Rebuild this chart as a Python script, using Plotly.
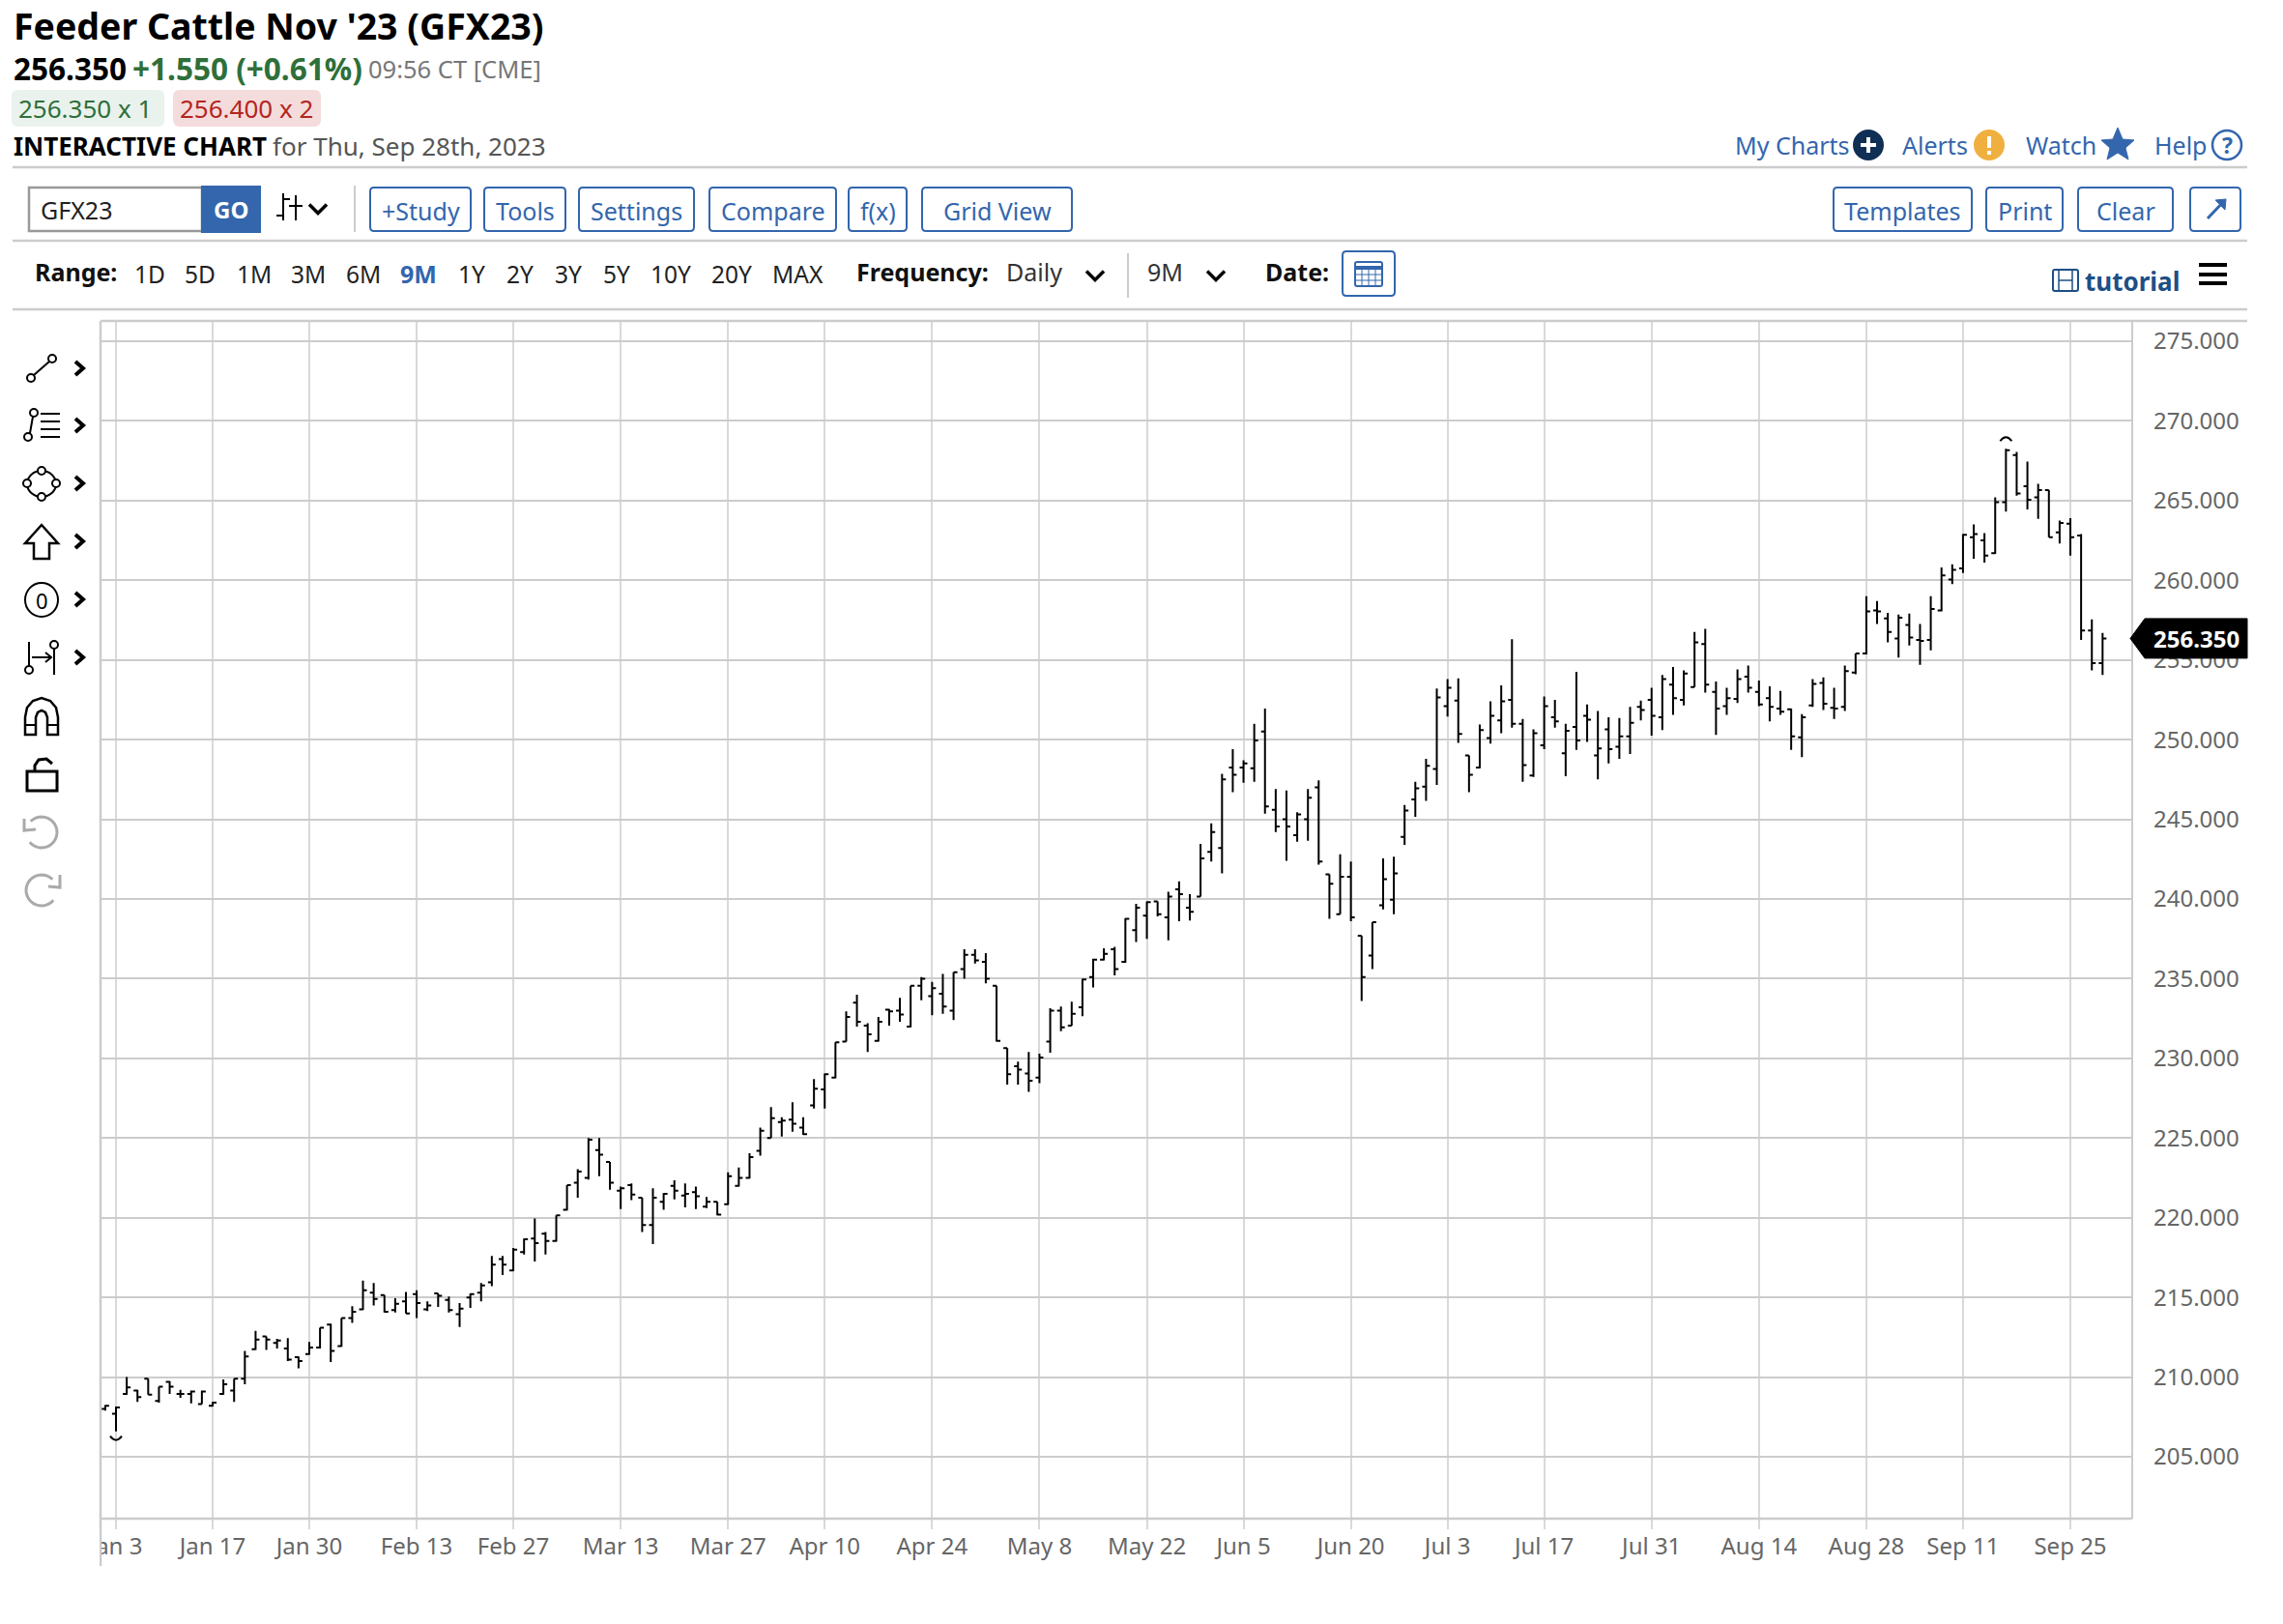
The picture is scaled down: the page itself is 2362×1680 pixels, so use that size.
import math
import pandas as pd
import plotly.graph_objects as go

# trading days shown on the chart
holidays = ["2023-01-02", "2023-01-16", "2023-02-20", "2023-04-07", "2023-05-29", "2023-06-19", "2023-07-04", "2023-09-04"]
days = [d for d in pd.bdate_range("2022-12-30", "2023-09-28").strftime("%Y-%m-%d") if d not in holidays]

opens = [208.0, 207.7, 208.95, 209.15, 209.9, 208.5, 209.7, 208.95, 208.95, 208.3,
         208.2, 208.95, 209.15, 209.9, 211.75, 212.55, 212.15, 211.8, 211.25, 211.45,
         211.85, 213.3, 211.95, 213.7, 214.25, 215.3, 215.15, 214.2, 214.75, 215.2,
         214.25, 215.25, 214.85, 213.95, 215.0, 215.3, 215.95, 217.4, 216.7, 217.85,
         218.7, 219.0, 218.55, 220.5, 222.2, 222.5, 224.25, 223.5, 221.7, 222.05,
         221.25, 219.55, 221.0, 222.0, 221.4, 221.6, 220.7, 221.0, 220.85, 222.0,
         222.5, 224.2, 225.0, 226.0, 226.15, 225.65, 227.05, 228.05, 228.8, 231.05,
         233.5, 232.05, 231.1, 233.05, 233.0, 232.0, 234.55, 233.9, 234.05, 233.0,
         235.6, 236.5, 236.05, 234.55, 230.65, 229.5, 229.05, 228.8, 231.05, 233.0,
         232.05, 233.2, 235.1, 236.2, 236.85, 236.05, 238.05, 238.95, 239.85, 238.85,
         240.6, 239.45, 240.15, 242.95, 243.2, 248.25, 248.25, 248.2, 250.5, 245.6,
         245.0, 244.0, 245.0, 247.0, 241.55, 239.05, 241.4, 237.7, 236.45, 239.6,
         239.95, 243.9, 246.25, 247.05, 248.15, 252.1, 252.45, 249.0, 248.25, 250.1,
         251.2, 252.5, 251.0, 247.75, 249.65, 251.4, 249.15, 250.8, 251.5, 249.0,
         250.65, 249.55, 250.2, 252.05, 252.5, 251.4, 253.45, 252.5, 253.3, 256.0,
         253.0, 252.1, 252.55, 253.95, 253.0, 252.6, 251.95, 251.9, 250.15, 252.15,
         253.55, 252.0, 252.05, 254.2, 255.4, 258.1, 257.6, 256.35, 257.2, 256.25,
         256.25, 258.1, 260.05, 260.75, 262.7, 262.5, 261.7, 264.9, 267.85, 265.9,
         265.2, 265.65, 263.0, 263.55, 262.8, 256.85, 254.8]
highs = [208.25, 208.15, 210.0, 209.2, 209.9, 209.4, 209.75, 209.2, 209.15, 209.15,
         208.45, 209.85, 209.9, 211.65, 212.9, 212.55, 212.4, 212.45, 211.3, 212.2,
         213.1, 213.35, 213.7, 214.45, 216.05, 215.9, 215.15, 214.95, 215.35, 215.45,
         214.75, 215.25, 215.05, 214.65, 215.25, 215.9, 217.6, 217.6, 218.1, 218.7,
         219.95, 219.1, 220.15, 222.05, 223.05, 225.0, 225.0, 223.5, 221.95, 222.15,
         221.25, 221.85, 221.55, 222.35, 222.15, 221.95, 221.3, 221.0, 222.85, 223.15,
         224.05, 225.65, 226.95, 226.3, 227.25, 226.3, 228.7, 229.05, 231.0, 232.95,
         234.0, 232.2, 232.6, 233.1, 233.8, 234.55, 235.1, 234.8, 235.3, 235.4,
         236.85, 236.85, 236.6, 234.55, 230.65, 229.8, 230.4, 230.3, 233.15, 233.25,
         233.55, 235.0, 236.25, 236.9, 237.0, 238.8, 239.7, 239.85, 239.85, 240.45,
         241.1, 240.3, 243.45, 244.75, 247.85, 249.4, 248.7, 251.0, 251.95, 246.9,
         246.8, 245.45, 246.9, 247.45, 241.55, 242.8, 242.35, 237.7, 238.55, 242.55,
         242.65, 245.9, 247.35, 248.8, 253.2, 253.8, 253.85, 249.0, 250.95, 252.4,
         253.4, 256.3, 251.3, 250.65, 252.7, 252.5, 251.0, 254.25, 252.2, 251.8,
         251.4, 251.35, 252.05, 252.45, 253.25, 254.05, 254.55, 254.35, 256.75, 256.95,
         253.65, 253.25, 254.4, 254.65, 253.7, 253.35, 253.05, 251.95, 251.6, 253.8,
         253.9, 253.25, 254.65, 255.4, 259.0, 258.7, 257.95, 257.85, 257.9, 257.25,
         259.0, 260.8, 261.0, 262.9, 263.5, 262.95, 265.2, 268.25, 268.05, 267.45,
         266.05, 265.65, 263.75, 263.9, 262.9, 257.55, 256.7]
lows = [207.9, 206.6, 208.9, 208.45, 208.9, 208.4, 208.95, 208.7, 208.35, 208.3,
        208.15, 208.9, 208.45, 209.55, 211.7, 211.7, 211.8, 211.0, 210.55, 211.4,
        211.8, 210.95, 211.9, 213.4, 214.2, 214.5, 214.05, 214.05, 214.0, 213.7,
        214.15, 214.4, 214.05, 213.15, 214.35, 214.75, 215.7, 216.4, 216.65, 217.7,
        217.25, 217.7, 218.5, 220.45, 221.25, 222.4, 222.6, 221.75, 220.55, 221.1,
        219.1, 218.35, 220.5, 221.15, 220.65, 220.55, 220.6, 220.15, 220.8, 221.95,
        222.45, 223.9, 225.0, 225.1, 225.4, 225.2, 226.85, 226.85, 228.75, 231.05,
        232.0, 230.4, 231.05, 232.05, 232.3, 231.95, 233.65, 232.7, 232.8, 232.4,
        235.0, 235.95, 234.7, 231.05, 228.35, 228.35, 227.9, 228.45, 230.35, 231.7,
        232.05, 232.65, 234.45, 236.15, 235.2, 236.0, 237.3, 237.5, 238.9, 237.4,
        238.6, 238.65, 240.15, 242.35, 241.6, 246.7, 247.3, 247.35, 245.35, 244.2,
        242.4, 243.6, 243.65, 242.15, 238.75, 239.05, 238.6, 233.6, 235.6, 239.35,
        239.05, 243.4, 245.15, 246.15, 247.15, 251.45, 249.8, 246.7, 248.2, 249.75,
        250.4, 250.75, 247.35, 247.65, 249.4, 250.75, 247.7, 249.35, 249.85, 247.5,
        248.5, 248.8, 249.1, 251.2, 250.25, 250.6, 251.55, 252.15, 253.3, 252.95,
        250.3, 251.55, 252.3, 252.95, 252.1, 251.15, 251.55, 249.35, 248.9, 252.05,
        251.85, 251.3, 251.8, 254.1, 255.35, 257.25, 256.1, 255.15, 255.9, 254.7,
        255.6, 258.05, 259.75, 260.45, 261.35, 261.1, 261.65, 264.3, 265.3, 264.45,
        263.85, 262.7, 262.3, 261.55, 256.25, 254.35, 254.05]
closes = [208.2, 208.1, 209.35, 208.75, 208.9, 209.4, 209.4, 208.95, 209.1, 209.1,
          208.4, 209.55, 209.9, 211.3, 212.35, 212.35, 212.3, 211.1, 211.0, 211.85,
          213.1, 211.65, 213.7, 214.1, 215.45, 214.9, 214.1, 214.6, 214.0, 214.65,
          214.5, 215.1, 214.2, 214.3, 215.2, 215.75, 217.05, 217.05, 218.0, 218.65,
          218.4, 218.55, 220.15, 222.05, 222.9, 224.9, 223.95, 222.2, 221.85, 221.45,
          219.55, 221.25, 221.5, 221.7, 221.5, 221.35, 221.0, 220.2, 222.6, 222.5,
          223.8, 225.45, 226.25, 226.1, 225.9, 225.25, 228.1, 229.0, 231.0, 232.6,
          232.3, 231.5, 232.3, 232.95, 232.75, 234.55, 235.0, 234.4, 233.25, 235.4,
          236.5, 236.15, 235.0, 231.1, 229.0, 229.3, 228.6, 230.05, 233.0, 231.95,
          232.8, 234.95, 236.2, 236.55, 235.6, 238.75, 239.45, 239.8, 239.05, 240.15,
          240.3, 239.2, 242.55, 244.2, 247.5, 247.8, 248.5, 249.95, 245.8, 244.55,
          244.55, 245.3, 246.35, 242.35, 240.95, 241.4, 238.85, 235.1, 238.55, 241.25,
          241.6, 245.55, 246.95, 248.35, 252.65, 253.25, 250.35, 247.8, 250.6, 251.5,
          252.4, 251.0, 248.4, 250.4, 252.1, 251.15, 250.55, 249.95, 251.25, 249.45,
          249.4, 250.2, 251.05, 251.85, 251.5, 253.8, 252.6, 254.15, 256.1, 253.45,
          251.95, 252.6, 253.8, 253.25, 252.2, 252.05, 251.75, 250.2, 251.4, 253.5,
          252.25, 251.95, 254.3, 255.4, 258.05, 258.05, 256.75, 257.65, 256.4, 256.2,
          258.2, 260.3, 260.65, 262.85, 262.9, 261.55, 264.9, 268.15, 265.45, 265.05,
          265.65, 262.7, 263.6, 262.7, 256.85, 254.8, 256.35]

tick_days = ["2023-01-03", "2023-01-17", "2023-01-30", "2023-02-13", "2023-02-27", "2023-03-13", "2023-03-27",
             "2023-04-10", "2023-04-24", "2023-05-08", "2023-05-22", "2023-06-05", "2023-06-20", "2023-07-03",
             "2023-07-17", "2023-07-31", "2023-08-14", "2023-08-28", "2023-09-11", "2023-09-25"]
tick_labels = ["Jan 3", "Jan 17", "Jan 30", "Feb 13", "Feb 27", "Mar 13", "Mar 27", "Apr 10", "Apr 24", "May 8",
               "May 22", "Jun 5", "Jun 20", "Jul 3", "Jul 17", "Jul 31", "Aug 14", "Aug 28", "Sep 11", "Sep 25"]
price_ticks = [205, 210, 215, 220, 225, 230, 235, 240, 245, 250, 255, 260, 265, 270, 275]
last_price = 256.35

# page pixels of the plot area, the page body adds 8px around the figure
W, H = 2354, 1672
left, right, top, bottom = 104, 2206, 332, 1571
BLUE = "#3366ad"
GRID = "#cccccc"
FONT = "Noto Sans"


def X(x):
    return (x - left) / (right - left)


def Y(y):
    return (bottom - y) / (bottom - top)


shapes = []
notes = []


def text(x, y, s, size=24, color="#333333", anchor="left", bold=False):
    if bold:
        s = "<b>" + s + "</b>"
    notes.append(dict(x=X(x), y=Y(y), xref="paper", yref="paper", text=s, showarrow=False, xanchor=anchor,
                      yanchor="middle", font=dict(family=FONT, size=size, color=color), borderpad=0, borderwidth=0))


def seg(x0, y0, x1, y1, color="#000000", width=2):
    shapes.append(dict(type="line", xref="paper", yref="paper", x0=X(x0), y0=Y(y0), x1=X(x1), y1=Y(y1),
                       line=dict(color=color, width=width), layer="above"))


def circ(cx, cy, r, line="#000000", fill="rgba(0,0,0,0)", width=2):
    shapes.append(dict(type="circle", xref="paper", yref="paper", x0=X(cx - r), y0=Y(cy - r), x1=X(cx + r), y1=Y(cy + r),
                       line=dict(color=line, width=width), fillcolor=fill, layer="above"))


def poly(points, line="#000000", fill="rgba(0,0,0,0)", width=2, close=True):
    p = "M " + " L ".join(str(X(a)) + " " + str(Y(b)) for a, b in points)
    if close:
        p += " Z"
    shapes.append(dict(type="path", xref="paper", yref="paper", path=p, line=dict(color=line, width=width),
                       fillcolor=fill, layer="above"))


def arc(cx, cy, r, a0, a1, line="#aaaaaa", width=3):
    pts = []
    for k in range(25):
        a = math.radians(a0 + (a1 - a0) * k / 24)
        pts.append((cx + r * math.cos(a), cy + r * math.sin(a)))
    poly(pts, line=line, width=width, close=False)


def box(x0, y0, x1, y1, line=BLUE, fill="#ffffff", width=2, r=4):
    p = ("M %f %f L %f %f Q %f %f %f %f L %f %f Q %f %f %f %f L %f %f Q %f %f %f %f L %f %f Q %f %f %f %f Z" % (
        X(x0 + r), Y(y0), X(x1 - r), Y(y0), X(x1), Y(y0), X(x1), Y(y0 + r), X(x1), Y(y1 - r), X(x1), Y(y1), X(x1 - r), Y(y1),
        X(x0 + r), Y(y1), X(x0), Y(y1), X(x0), Y(y1 - r), X(x0), Y(y0 + r), X(x0), Y(y0), X(x0 + r), Y(y0)))
    shapes.append(dict(type="path", xref="paper", yref="paper", path=p, line=dict(color=line, width=width),
                       fillcolor=fill, layer="above"))


def chevron(x, y, s=9, width=3.5, color="#000000"):
    poly([(x - s, y - s / 2), (x, y + s / 2), (x + s, y - s / 2)], line=color, width=width, close=False)


def side_chevron(x, y):
    poly([(x - 4, y - 7), (x + 4, y), (x - 4, y + 7)], width=4, close=False)


# header
text(14, 26.5, "Feeder Cattle Nov '23 (GFX23)", size=37.5, color="#000000", bold=True)
text(14, 70.5, "256.350", size=31.5, color="#000000", bold=True)
text(137, 70.5, "+1.550 (+0.61%)", size=31.5, color="#2f6f3a", bold=True)
text(381, 71, "09:56 CT [CME]", size=25.5, color="#777777")
box(13, 94, 169, 130, line="#e9f2ec", fill="#e9f2ec", r=6)
text(19, 111.5, "256.350 x 1", size=26, color="#2f6f3a")
box(180, 94, 331, 130, line="#f4dcdc", fill="#f4dcdc", r=6)
text(186, 111.5, "256.400 x 2", size=26, color="#b3261e")
text(14, 151.5, "INTERACTIVE CHART", size=26, color="#000000", bold=True)
text(282, 151.5, "for Thu, Sep 28th, 2023", size=26, color="#555555")

text(1795, 150, "My Charts", size=25, color=BLUE)
circ(1933, 150, 15, line="#102f55", fill="#102f55")
seg(1925, 150, 1941, 150, color="#ffffff", width=4)
seg(1933, 142, 1933, 158, color="#ffffff", width=4)
text(1968, 150, "Alerts", size=25, color=BLUE)
circ(2058, 150, 15, line="#f0b040", fill="#f0b040")
seg(2058, 141, 2058, 153, color="#ffffff", width=4)
seg(2058, 156, 2058, 160, color="#ffffff", width=4)
text(2096, 150, "Watch", size=25, color=BLUE)
star = [(2191, 132), (2196, 144), (2208, 145), (2199, 153), (2202, 165), (2191, 158), (2180, 165), (2183, 153), (2174, 145), (2186, 144)]
poly(star, line=BLUE, fill=BLUE, width=1)
text(2229, 150, "Help", size=25, color=BLUE)
circ(2304, 150, 15, line=BLUE, width=2.5)
text(2304, 150, "?", size=23, color=BLUE, anchor="center", bold=True)

for yy in [173, 249, 320]:
    seg(13, yy, 2325, yy, color=GRID, width=2.5)

# toolbar row
box(30, 194, 209, 239, line="#999999", r=0, width=2.5)
text(42, 216.5, "GFX23", size=25, color="#222222")
box(209, 193, 269, 240, line=BLUE, fill=BLUE, r=0)
text(239, 216.5, "GO", size=24, color="#ffffff", anchor="center", bold=True)
seg(293, 200, 293, 228, width=2)
seg(286, 223, 293, 223, width=2)
seg(293, 206, 300, 206, width=2)
seg(306, 202, 306, 228, width=2)
seg(299, 213, 306, 213, width=2)
seg(306, 213, 313, 213, width=2)
chevron(329, 216)
seg(367, 192, 367, 240, color=GRID, width=2)

buttons_left = [(383, 487, "+Study"), (501, 585, "Tools"), (599, 718, "Settings"), (734, 865, "Compare"),
                (878, 938, "f(x)"), (954, 1109, "Grid View")]
buttons_right = [(1897, 2040, "Templates"), (2055, 2134, "Print"), (2150, 2248, "Clear")]
for x0, x1, label in buttons_left + buttons_right:
    box(x0, 194, x1, 239)
    text((x0 + x1) / 2, 217.5, label, size=25, color=BLUE, anchor="center")
box(2266, 194, 2318, 239)
seg(2284, 226, 2301, 208, color=BLUE, width=3)
poly([(2292, 207), (2303, 206), (2302, 217)], line=BLUE, fill=BLUE, width=1)

# range row
text(36, 281.5, "Range:", size=25, color="#111111", bold=True)
ranges = [(155, "1D"), (207, "5D"), (263, "1M"), (319, "3M"), (376, "6M"), (433, "9M"), (488, "1Y"), (538, "2Y"),
          (588, "3Y"), (638, "5Y"), (694, "10Y"), (757, "20Y"), (825, "MAX")]
for xc, label in ranges:
    if label == "9M":
        text(xc, 283, label, size=25, color=BLUE, anchor="center", bold=True)
    else:
        text(xc, 283, label, size=24.5, color="#222222", anchor="center")
text(886, 281.5, "Frequency:", size=25, color="#111111", bold=True)
text(1041, 281.5, "Daily", size=25, color="#333333")
chevron(1133, 285)
seg(1167, 262, 1167, 308, color=GRID, width=2)
text(1187, 281.5, "9M", size=25, color="#333333")
chevron(1258, 285)
text(1309, 281.5, "Date:", size=25, color="#111111", bold=True)
box(1389, 260, 1443, 306)
box(1402, 271, 1430, 296, line=BLUE, fill="#ffffff", r=2)
seg(1402, 277, 1430, 277, color=BLUE, width=4)
for xx in [1409, 1416, 1423]:
    seg(xx, 277, xx, 296, color=BLUE, width=1)
for yy in [284, 290]:
    seg(1402, yy, 1430, yy, color=BLUE, width=1)

box(2124, 279, 2150, 301, line="#1d4f86", fill="#ffffff", r=2)
seg(2130, 279, 2130, 301, color="#1d4f86", width=1.5)
seg(2144, 279, 2144, 301, color="#1d4f86", width=1.5)
seg(2130, 290, 2144, 290, color="#1d4f86", width=1.5)
text(2157, 291, "tutorial", size=26, color="#1d4f86", bold=True)
for yy in [274, 284, 293]:
    seg(2275, yy, 2304, yy, color="#000000", width=4)

# drawing tools on the left
circ(32, 391, 4)
circ(54, 371, 4)
seg(35, 388, 51, 374)
side_chevron(82, 381)
circ(29, 452, 4)
circ(35, 427, 4)
seg(31, 448, 34, 431)
for yy in [428, 436, 444, 452]:
    seg(42, yy, 62, yy)
side_chevron(82, 440)
shapes.append(dict(type="circle", xref="paper", yref="paper", x0=X(28), y0=Y(487), x1=X(58), y1=Y(514),
                   line=dict(color="#000000", width=2), layer="above"))
for cx, cy in [(43, 487), (58, 500), (43, 514), (28, 500)]:
    circ(cx, cy, 4, fill="#ffffff")
side_chevron(82, 500)
poly([(43, 543), (60, 562), (51, 562), (51, 578), (35, 578), (35, 562), (26, 562)], width=2.5)
side_chevron(82, 560)
shapes.append(dict(type="circle", xref="paper", yref="paper", x0=X(26), y0=Y(603), x1=X(60), y1=Y(638),
                   line=dict(color="#000000", width=2), layer="above"))
text(43, 621, "0", size=22, color="#000000", anchor="center")
side_chevron(82, 620)
seg(30, 664, 30, 695)
circ(30, 693, 4, fill="#ffffff")
seg(33, 680, 52, 680)
poly([(47, 675), (53, 680), (47, 685)], close=False)
seg(56, 668, 56, 698)
circ(56, 667, 4, fill="#ffffff")
side_chevron(82, 680)
poly([(26, 760), (26, 742), (28, 732), (34, 725), (43, 722), (52, 725), (58, 732), (60, 742), (60, 760), (49, 760), (49, 742),
      (47, 737), (43, 735), (39, 737), (37, 742), (37, 760)], width=2.5)
seg(26, 750, 37, 750)
seg(49, 750, 60, 750)
box(28, 798, 59, 818, line="#000000", r=0, width=3)
poly([(36, 798), (36, 792), (40, 786), (48, 785), (54, 790)], width=3, close=False)
arc(43, 861, 16, 225, 500)
poly([(25, 847), (25, 859), (37, 858)], line="#aaaaaa", width=3, close=False)
arc(43, 921, 16, -45, -320)
poly([(62, 905), (62, 918), (50, 917)], line="#aaaaaa", width=3, close=False)

# chart frame
seg(left, top, 2325, top, color=GRID, width=2.5)
seg(left, top, left, 1620, color=GRID, width=2.5)
seg(right, top, right, bottom, color=GRID, width=2)
seg(left, bottom, right, bottom, color=GRID, width=2.5)
# the first tick label is cut by the chart's left edge
shapes.append(dict(type="rect", xref="paper", yref="paper", x0=X(60), y0=Y(1582), x1=X(left - 1), y1=Y(1625),
                   line=dict(width=0), fillcolor="#ffffff", layer="above"))

# arcs over the contract low and high
hi_i = highs.index(max(highs))
lo_i = lows.index(min(lows))
shapes.append(dict(type="path", xref="x", yref="y", xsizemode="pixel", ysizemode="pixel", xanchor=days[hi_i], yanchor=highs[hi_i],
                   path="M -6 8 Q 0 16 6 8", line=dict(color="#000000", width=2), layer="above"))
shapes.append(dict(type="path", xref="x", yref="y", xsizemode="pixel", ysizemode="pixel", xanchor=days[lo_i], yanchor=lows[lo_i],
                   path="M -6 -5 Q 0 -13 6 -5", line=dict(color="#000000", width=2), layer="above"))

# last price flag
shapes.append(dict(type="path", xref="paper", yref="y", xsizemode="pixel", ysizemode="pixel", xanchor=1, yanchor=last_price,
                   path="M -2 0 L 13 20.5 L 119 20.5 L 119 -20.5 L 13 -20.5 Z", line=dict(color="#000000", width=1), fillcolor="#000000", layer="above"))
notes.append(dict(x=X(2272), y=last_price, xref="paper", yref="y", text="<b>256.350</b>", showarrow=False, xanchor="center",
                  yanchor="middle", font=dict(family=FONT, size=24, color="#ffffff")))

fig = go.Figure(go.Ohlc(x=days, open=opens, high=highs, low=lows, close=closes, tickwidth=0.36,
                        increasing=dict(line=dict(color="#000000", width=2)),
                        decreasing=dict(line=dict(color="#000000", width=2)),
                        hoverinfo="skip"))

fig.update_layout(width=W, height=H, margin=dict(l=left - 8, r=W - (right - 8), t=top - 8, b=H - (bottom - 8), pad=0),
                  plot_bgcolor="#ffffff", paper_bgcolor="#ffffff", showlegend=False,
                  shapes=shapes, annotations=notes, font=dict(family=FONT))
# x range stays tied to the bar spacing of 11.11px
fig.update_xaxes(type="category", range=[-0.44, 188.76], tickmode="array", tickvals=tick_days, ticktext=tick_labels,
                 showgrid=True, gridcolor="#d9d9d9", gridwidth=2, ticks="outside", ticklen=10, tickwidth=2, tickcolor="#d9d9d9",
                 tickfont=dict(family=FONT, size=24, color="#666666"), rangeslider=dict(visible=False),
                 showline=False, zeroline=False, ticklabelstandoff=-3)
fig.update_yaxes(side="right", range=[201.12, 276.27], tickmode="array", tickvals=price_ticks,
                 tickformat=".3f", showgrid=True, gridcolor=GRID, gridwidth=2, zeroline=False, ticks="",
                 tickfont=dict(family=FONT, size=24, color="#666666"), ticklabelstandoff=21, showline=False)

fig.write_html("out.html")
